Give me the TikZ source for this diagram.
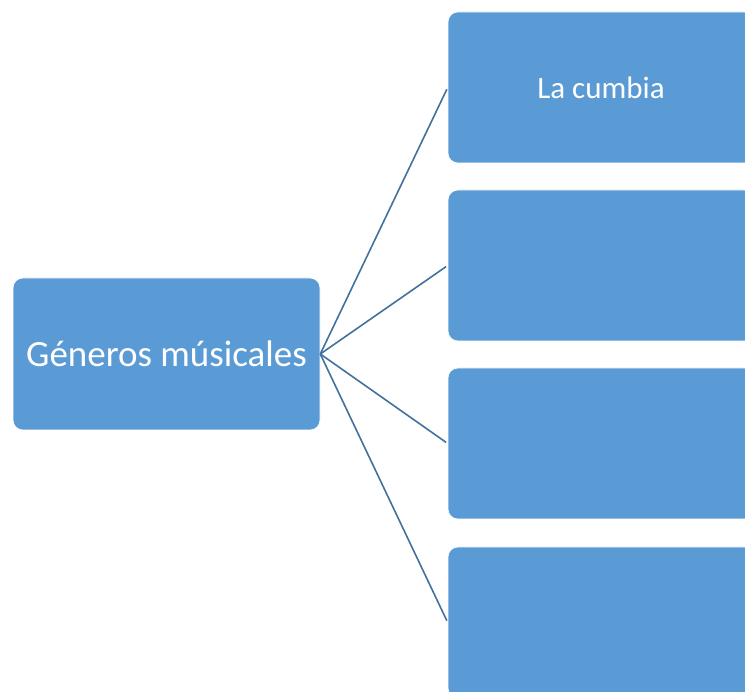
\documentclass[tikz,border=0pt]{standalone}
\usepackage{fontspec}
\setmainfont{Carlito}
\definecolor{boxblue}{HTML}{5B9BD5}
\definecolor{linkblue}{HTML}{41719C}
\begin{document}
\begin{tikzpicture}[x=1pt,y=-1pt,
  genbox/.style={fill=boxblue, draw=white, line width=0.6pt, rounded corners=10pt, text=white, inner sep=0pt, anchor=center},
  link/.style={draw=linkblue, line width=1.6pt, shorten >=2pt}]
\useasboundingbox (0,0) rectangle (745,692);
\clip (0,0) rectangle (745,692);
\node[genbox, minimum width=307pt, minimum height=152pt, font=\fontsize{37}{40}\selectfont] (c) at (166.5,354) {Géneros músicales};
\node[genbox, minimum width=306pt, minimum height=151pt, font=\fontsize{31}{34}\selectfont] (r1) at (601,87.5) {La cumbia};
\node[genbox, minimum width=306pt, minimum height=151pt] (r2) at (601,265.5) {};
\node[genbox, minimum width=306pt, minimum height=151pt] (r3) at (601,443.5) {};
\node[genbox, minimum width=306pt, minimum height=151pt] (r4) at (601,622.5) {};
\foreach \r in {r1,r2,r3,r4} \draw[link] (c.east) -- (\r.west);
\end{tikzpicture}
\end{document}
